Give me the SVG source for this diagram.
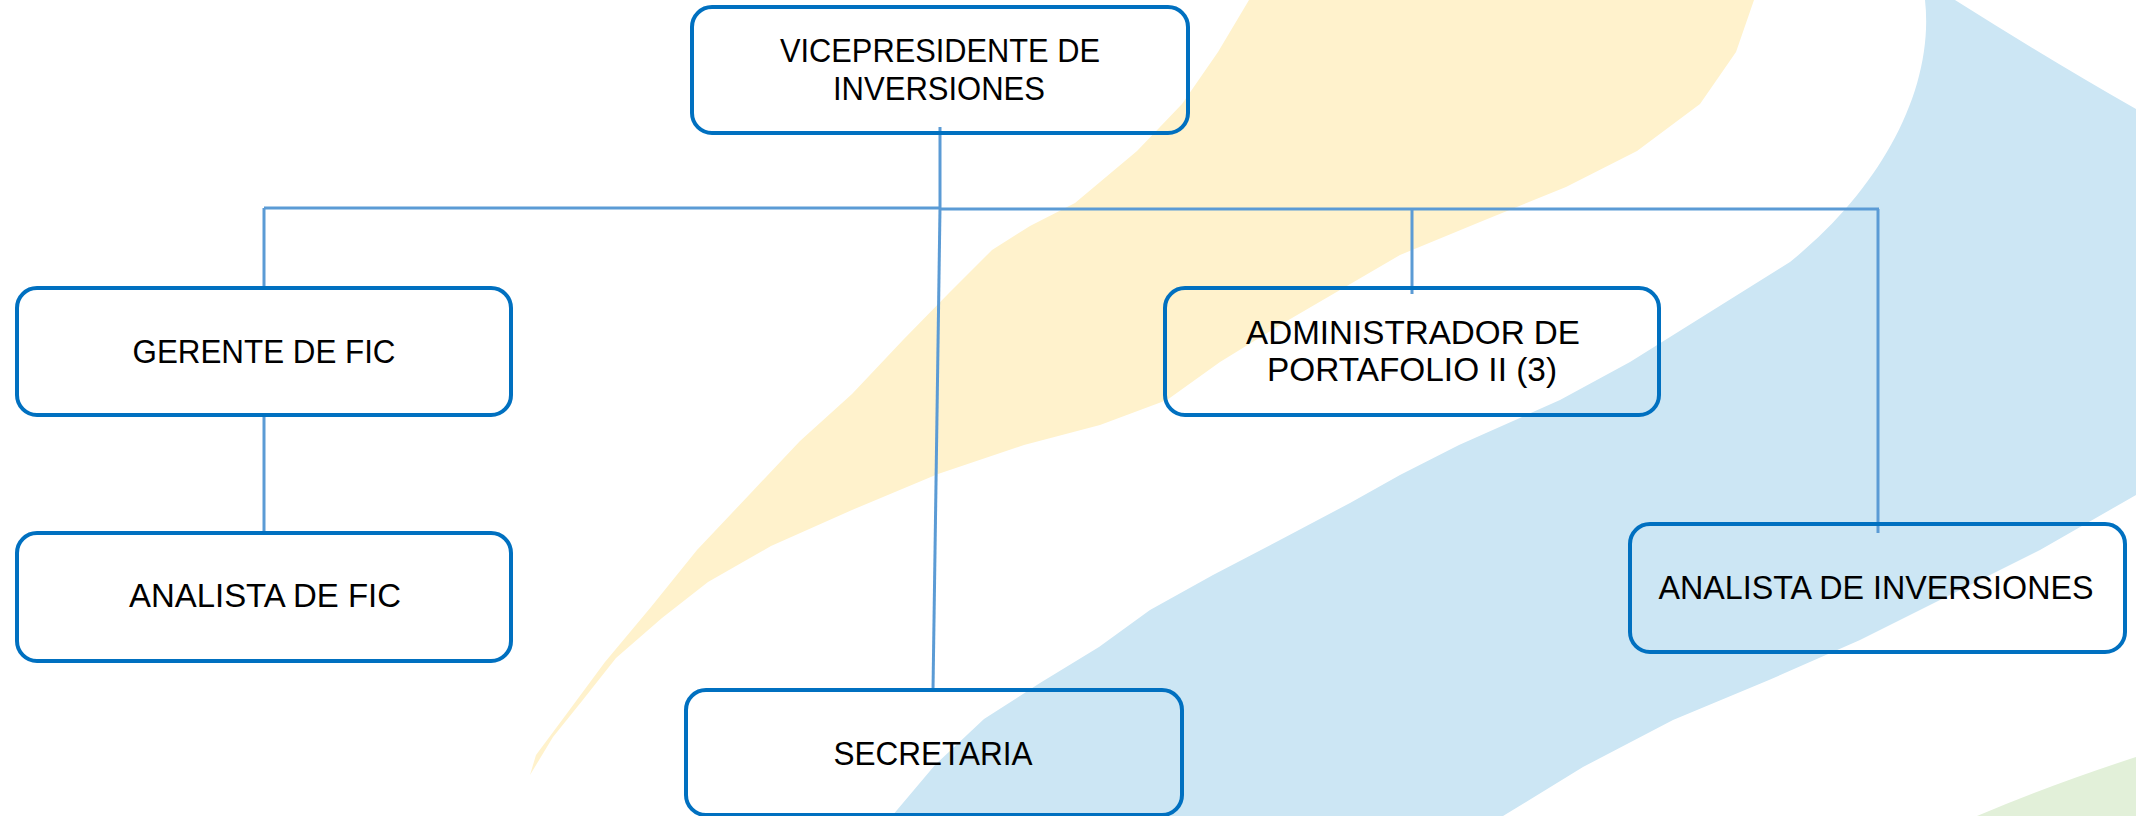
<svg xmlns="http://www.w3.org/2000/svg" width="2136" height="816" viewBox="0 0 2136 816">
<style>
.box{fill:none;stroke:#0070C0;stroke-width:4}
.lbl{font-family:"Liberation Sans",Arial,sans-serif;font-size:34px;fill:#000;text-anchor:middle}
.conn{stroke:#5B9BD5;stroke-width:3;fill:none}
</style>
<rect x="0" y="0" width="2136" height="816" fill="#FFFFFF"/>
<g id="background">
<path fill="#FFF2CC" d="M1249,0 L1754,0 L1736,52 L1700,104 L1637,151 L1566,187 L1480,222 L1400,255 L1340,290 L1280,325 L1220,362 L1167,400 L1100,425 L1024,445 L938,474 L852,510 L771,546 L708,582 L662,618 L616,658 L582,701 L553,737 L530,775 L536,755 L565,716 L605,662 L651,607 L697,550 L749,495 L800,441 L852,394 L903,340 L949,293 L992,250 L1030,226 L1075,203 L1137,151 L1182,104 L1218,52 Z"/>
<path fill="#CCE6F4" d="M1925,0 L1955,0 Q2050,60 2136,109 L2136,495 L2040,550 L1940,600 L1860,640 L1769,680 L1673,720 L1583,767 L1503,816 L892,816 L935,765 L984,719 L1040,683 L1099,647 L1150,610 L1213,575 L1280,540 L1350,503 L1400,475 L1459,445 L1560,400 L1630,362 L1710,312 L1790,262 C1880,190 1935,90 1925,0 Z"/>
<path fill="#E2F0D9" d="M2136,757 Q2050,785 1977,816 L2136,816 Z"/>
</g>
<g id="connectors">
<line class="conn" x1="940" y1="127" x2="940" y2="208"/>
<line class="conn" x1="264" y1="208" x2="941" y2="208" stroke-width="4"/>
<line class="conn" x1="940" y1="209" x2="1879" y2="209"/>
<line class="conn" x1="264" y1="208" x2="264" y2="289"/>
<line class="conn" x1="1412" y1="209" x2="1412" y2="294"/>
<line class="conn" x1="1878" y1="209" x2="1878" y2="533"/>
<line class="conn" x1="264" y1="415" x2="264" y2="533"/>
<line class="conn" x1="940" y1="208" x2="933" y2="690"/>
</g>
<g id="vicepresidente">
<rect class="box" x="692" y="7" width="496" height="126" rx="20"/>
<text class="lbl" x="940" y="62" textLength="320" lengthAdjust="spacingAndGlyphs">VICEPRESIDENTE DE</text>
<text class="lbl" x="939" y="100" textLength="212" lengthAdjust="spacingAndGlyphs">INVERSIONES</text>
</g>
<g id="gerente-fic">
<rect class="box" x="17" y="288" width="494" height="127" rx="20"/>
<text class="lbl" x="264" y="363" textLength="263" lengthAdjust="spacingAndGlyphs">GERENTE DE FIC</text>
</g>
<g id="analista-fic">
<rect class="box" x="17" y="533" width="494" height="128" rx="20"/>
<text class="lbl" x="265" y="607" textLength="272" lengthAdjust="spacingAndGlyphs">ANALISTA DE FIC</text>
</g>
<g id="secretaria">
<rect class="box" x="686" y="690" width="496" height="125" rx="20"/>
<text class="lbl" x="933" y="765" textLength="199" lengthAdjust="spacingAndGlyphs">SECRETARIA</text>
</g>
<g id="administrador">
<rect class="box" x="1165" y="288" width="494" height="127" rx="20"/>
<text class="lbl" x="1413" y="344" textLength="334" lengthAdjust="spacingAndGlyphs">ADMINISTRADOR DE</text>
<text class="lbl" x="1412" y="381" textLength="290" lengthAdjust="spacingAndGlyphs">PORTAFOLIO II (3)</text>
</g>
<g id="analista-inversiones">
<rect class="box" x="1630" y="524" width="495" height="128" rx="20"/>
<text class="lbl" x="1876" y="599" textLength="435" lengthAdjust="spacingAndGlyphs">ANALISTA DE INVERSIONES</text>
</g>
</svg>
